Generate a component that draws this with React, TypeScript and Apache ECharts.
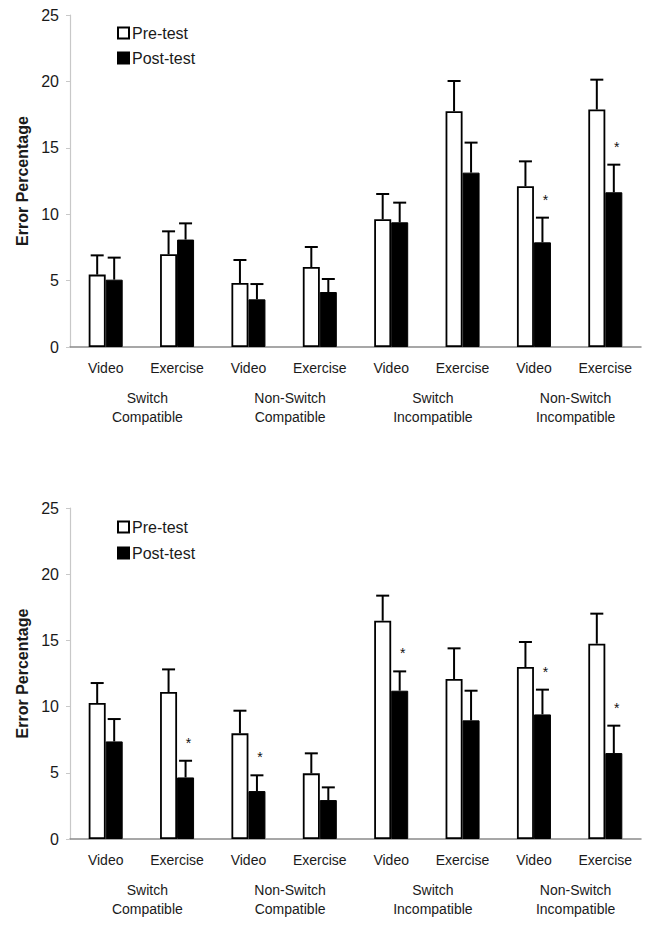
import React, { useEffect, useRef } from "react";
import * as echarts from "echarts";

const categories = ["Video", "Exercise", "Video", "Exercise", "Video", "Exercise", "Video", "Exercise"];
const groupLabels = ["Switch\nCompatible", "Non-Switch\nCompatible", "Switch\nIncompatible", "Non-Switch\nIncompatible"];
const seriesNames = ["Pre-test", "Post-test"];
const yTitle = "Error Percentage";

const topPre = [5.45, 6.98, 4.82, 6.02, 9.62, 17.75, 12.1, 17.88];
const topPreErr = [1.45, 1.73, 1.73, 1.51, 1.9, 2.28, 1.88, 2.25];
const topPost = [5.07, 8.09, 3.59, 4.14, 9.39, 13.13, 7.88, 11.65];
const topPostErr = [1.66, 1.22, 1.15, 0.98, 1.48, 2.26, 1.86, 2.08];
const topStars = [0, 0, 0, 0, 0, 0, 1, 1];

const bottomPre = [10.27, 11.1, 7.98, 4.96, 16.49, 12.08, 12.99, 14.75];
const bottomPreErr = [1.51, 1.71, 1.71, 1.51, 1.89, 2.32, 1.89, 2.27];
const bottomPost = [7.37, 4.65, 3.62, 2.94, 11.2, 8.96, 9.41, 6.49];
const bottomPostErr = [1.69, 1.26, 1.19, 0.96, 1.46, 2.24, 1.87, 2.07];
const bottomStars = [0, 1, 1, 0, 1, 0, 1, 1];

const FONT = "'Liberation Sans', Arial, sans-serif";
const BAR_W = 17;

function errorSeries(gridIdx: number, means: number[], errs: number[], offset: number) {
  return {
    type: "custom",
    xAxisIndex: gridIdx,
    yAxisIndex: gridIdx,
    silent: true,
    z: 3,
    renderItem: (params: any, api: any) => {
      const base = api.coord([api.value(0), api.value(1)]);
      const top = api.coord([api.value(0), api.value(2)]);
      const x = base[0] + offset;
      return {
        type: "group",
        children: [
          { type: "line", shape: { x1: x, y1: base[1], x2: x, y2: top[1] }, style: { stroke: "#000", lineWidth: 2 } },
          { type: "line", shape: { x1: x - 6.5, y1: top[1], x2: x + 6.5, y2: top[1] }, style: { stroke: "#000", lineWidth: 2 } },
        ],
      };
    },
    data: means.map((m, i) => [i, m, m + errs[i]]),
  };
}

function starSeries(gridIdx: number, means: number[], errs: number[], stars: number[], offset: number) {
  return {
    type: "custom",
    xAxisIndex: gridIdx,
    yAxisIndex: gridIdx,
    silent: true,
    z: 4,
    renderItem: (params: any, api: any) => {
      const p = api.coord([api.value(0), api.value(1)]);
      return {
        type: "text",
        style: {
          text: "*",
          x: p[0] + offset + 3,
          y: p[1] - 18,
          align: "center",
          verticalAlign: "middle",
          fontSize: 14,
          fontFamily: FONT,
          fill: "#111",
        },
      };
    },
    data: means.map((m, i) => [i, m + errs[i]]).filter((_, i) => stars[i]),
  };
}

function barSeries(gridIdx: number, name: string, values: number[], pre: boolean) {
  return {
    type: "bar",
    name,
    xAxisIndex: gridIdx,
    yAxisIndex: gridIdx,
    barWidth: BAR_W,
    barGap: "0%",
    z: 2,
    itemStyle: pre
      ? { color: "#fff", borderColor: "#000", borderWidth: 1.8 }
      : { color: "#000", borderColor: "#000", borderWidth: 1 },
    data: values,
  };
}

export default function App() {
  const ref = useRef<HTMLDivElement>(null);
  useEffect(() => {
    document.body.style.margin = "0";
    const chart = echarts.init(ref.current!, undefined, { renderer: "svg" });
    const grids = [
      { left: 70, top: 15, width: 571, height: 332 },
      { left: 70, top: 508, width: 571, height: 331 },
    ];
    const xAxes: any[] = [];
    const yAxes: any[] = [];
    grids.forEach((g, i) => {
      xAxes.push({
        type: "category",
        gridIndex: i,
        data: categories,
        axisLine: { lineStyle: { color: "#8a8a8a", width: 1.5 } },
        axisTick: { show: false },
        axisLabel: { color: "#1a1a1a", fontSize: 14, fontFamily: FONT, margin: 14 },
      });
      yAxes.push({
        type: "value",
        gridIndex: i,
        min: 0,
        max: 25,
        interval: 5,
        name: yTitle,
        nameLocation: "middle",
        nameRotate: 90,
        nameGap: 40,
        nameTextStyle: { fontSize: 16, fontWeight: "bold", color: "#1a1a1a", fontFamily: FONT },
        splitLine: { show: false },
        axisLine: { show: true, lineStyle: { color: "#c8c8c8", width: 1.2 } },
        axisTick: { show: true, length: 4, lineStyle: { color: "#c8c8c8" } },
        axisLabel: { color: "#1a1a1a", fontSize: 16, fontFamily: FONT, margin: 11 },
      });
    });
    // hidden grids for group labels
    grids.forEach((g, i) => {
      xAxes.push({
        type: "category",
        gridIndex: i + 2,
        data: groupLabels,
        axisLine: { show: false },
        axisTick: { show: false },
        axisLabel: { color: "#1a1a1a", fontSize: 14, fontFamily: FONT, margin: 41, lineHeight: 19, padding: [0, 0, 0, 12] },
      });
      yAxes.push({ type: "value", gridIndex: i + 2, show: false });
    });
    const allGrids = [...grids, ...grids];

    const legendText = { fontSize: 16, color: "#1a1a1a", fontFamily: FONT, lineHeight: 16, padding: [0, 0, 0, -2] };
    const option: any = {
      animation: false,
      backgroundColor: "#fff",
      textStyle: { fontFamily: FONT },
      grid: allGrids,
      xAxis: xAxes,
      yAxis: yAxes,
      legend: [
        {
          left: 112,
          top: 20,
          orient: "vertical",
          data: seriesNames,
          icon: "rect",
          itemWidth: 11,
          itemHeight: 11,
          itemGap: 9,
          textStyle: legendText,
        },
        {
          left: 112,
          top: 514,
          orient: "vertical",
          data: seriesNames,
          icon: "rect",
          itemWidth: 11,
          itemHeight: 11,
          itemGap: 10,
          textStyle: legendText,
        },
      ],
      series: [
        barSeries(0, seriesNames[0], topPre, true),
        barSeries(0, seriesNames[1], topPost, false),
        errorSeries(0, topPre, topPreErr, -BAR_W / 2),
        errorSeries(0, topPost, topPostErr, BAR_W / 2),
        starSeries(0, topPost, topPostErr, topStars, BAR_W / 2),
        barSeries(1, seriesNames[0], bottomPre, true),
        barSeries(1, seriesNames[1], bottomPost, false),
        errorSeries(1, bottomPre, bottomPreErr, -BAR_W / 2),
        errorSeries(1, bottomPost, bottomPostErr, BAR_W / 2),
        starSeries(1, bottomPost, bottomPostErr, bottomStars, BAR_W / 2),
      ],
    };
    chart.setOption(option);
    return () => chart.dispose();
  }, []);
  return <div ref={ref} style={{ width: 666, height: 933 }} />;
}
